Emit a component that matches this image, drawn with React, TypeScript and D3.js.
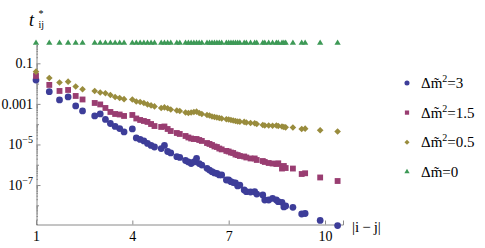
import React, { useEffect, useRef } from "react";
import * as d3 from "d3";

// |i-j| values that occur (3d lattice distances)
const distances = [
  1, 1.414, 1.732, 2, 2.236, 2.449, 2.828, 3, 3.162, 3.317, 3.464, 3.606, 3.742,
  4, 4.123, 4.243, 4.359, 4.472, 4.583, 4.69, 4.899, 5, 5.099, 5.196, 5.385, 5.477,
  5.657, 5.745, 5.831, 5.916, 6, 6.083, 6.164, 6.325, 6.403, 6.481, 6.557, 6.633, 6.708, 6.782, 6.928, 7, 7.071,
  7.141, 7.211, 7.28, 7.348, 7.483, 7.55, 7.681, 7.81, 7.874, 8.062, 8.124, 8.246, 8.367,
  8.485, 8.544, 8.66, 8.718, 8.775, 9, 9.274, 9.381, 9.849, 10.392,
];

const tM3 = [
  1.5e-2, 4.0e-3, 1.56e-3, 2.19e-3, 7.9e-4, 4.5e-4, 2.54e-4, 3.18e-4, 1.71e-4, 1.08e-4, 7.7e-5, 6.1e-5, 4.13e-5,
  5.8e-5, 2.09e-5, 1.76e-5, 1.49e-5, 1.12e-5, 8.9e-6, 7.5e-6, 6.3e-6, 8.9e-6, 4.5e-6, 3.8e-6, 2.5e-6, 2.28e-6,
  1.62e-6, 1.37e-6, 1.15e-6, 1.37e-6, 2.08e-6, 1.15e-6, 9.7e-7, 6.7e-7, 5.5e-7, 4.55e-7, 3.93e-7, 3.71e-7, 3.13e-7, 3.13e-7, 1.77e-7, 1.77e-7, 1.46e-7,
  1.33e-7, 1.26e-7, 9.0e-8, 1.0e-7, 5.7e-8, 4.7e-8, 4.54e-8, 4.7e-8, 3.61e-8, 3.23e-8, 1.83e-8, 1.83e-8, 2.22e-8,
  1.83e-8, 1.51e-8, 1.41e-8, 8.3e-9, 9.3e-9, 8.0e-9, 3.73e-9, 3.95e-9, 1.79e-9, 1.01e-9,
];

const tM15 = [
  2.38e-2, 8.6e-3, 4.34e-3, 4.86e-3, 2.46e-3, 1.65e-3, 1.11e-3, 9.4e-4, 6.3e-4, 4.0e-4, 3.18e-4, 3.0e-4, 2.54e-4,
  2.84e-4, 1.91e-4, 1.61e-4, 1.44e-4, 1.29e-4, 1.02e-4, 8.1e-5, 7.3e-5, 7.7e-5, 5.8e-5, 4.6e-5, 3.68e-5, 3.29e-5,
  2.62e-5, 2.21e-5, 1.97e-5, 1.86e-5, 1.86e-5, 1.66e-5, 1.49e-5, 1.18e-5, 1.06e-5, 9.4e-6, 8.0e-6, 7.5e-6, 6.3e-6, 5.7e-6, 4.8e-6, 4.5e-6, 4.0e-6,
  3.8e-6, 3.2e-6, 3.0e-6, 2.7e-6, 2.55e-6, 2.28e-6, 2.04e-6, 2.04e-6, 1.72e-6, 1.53e-6, 1.37e-6, 1.22e-6, 1.15e-6,
  1.09e-6, 1.18e-6, 6.5e-7, 8.7e-7, 6.9e-7, 6.5e-7, 3.5e-7, 3.8e-7, 2.36e-7, 1.58e-7,
];

const tM05 = [
  3.88e-2, 1.9e-2, 1.14e-2, 1.25e-2, 7.2e-3, 5.3e-3, 4.34e-3, 3.66e-3, 3.34e-3, 2.75e-3, 2.19e-3, 1.96e-3, 1.71e-3,
  1.65e-3, 1.32e-3, 1.24e-3, 1.11e-3, 9.4e-4, 8.4e-4, 7.5e-4, 6.3e-4, 6.7e-4, 6.1e-4, 5.3e-4, 4.7e-4, 4.48e-4,
  3.78e-4, 3.56e-4, 3.78e-4, 4.0e-4, 4.14e-4, 3.56e-4, 3.18e-4, 2.84e-4, 2.69e-4, 2.4e-4, 2.26e-4, 2.14e-4, 2.02e-4, 1.91e-4, 1.75e-4, 1.71e-4, 1.61e-4,
  1.52e-4, 1.44e-4, 1.36e-4, 1.33e-4, 1.29e-4, 1.21e-4, 1.15e-4, 1.11e-4, 1.02e-4, 9.1e-5, 8.6e-5, 8.6e-5, 8.4e-5,
  8.6e-5, 8.1e-5, 7.7e-5, 7.3e-5, 7.0e-5, 6.9e-5, 5.8e-5, 6.0e-5, 5.0e-5, 4.37e-5,
];

const tM0 = [
  1, 1, 1, 1, 1, 1, 1, 1, 1, 1, 1, 1, 1,
  1, 1, 1, 1, 1, 1, 1, 1, 1, 1, 1, 1, 1,
  1, 1, 1, 1, 1, 1, 1, 1, 1, 1, 1, 1, 1, 1, 1, 1, 1,
  1, 1, 1, 1, 1, 1, 1, 1, 1, 1, 1, 1, 1,
  1, 1, 1, 1, 1, 1, 1, 1, 1, 1,
];

const seriesNames = [
  ["Δm\u0303", "2", "=3"],
  ["Δm\u0303", "2", "=1.5"],
  ["Δm\u0303", "2", "=0.5"],
  ["Δm\u0303", "", "=0"],
];
const seriesValues = [tM3, tM15, tM05, tM0];
const colors = ["#3d3d99", "#993d71", "#998c3d", "#3d9956"];

const xTicks = [1, 4, 7, 10];
const yMajor = [1e-1, 1e-3, 1e-5, 1e-7];
const yMajorLabels = [["0.1", ""], ["0.001", ""], ["10", "−5"], ["10", "−7"]];

const serif = "Liberation Serif, Tinos, Times New Roman, DejaVu Serif, serif";

function App() {
  const ref = useRef<SVGSVGElement>(null);

  useEffect(() => {
    const svg = d3.select(ref.current);
    svg.selectAll("*").remove();
    const axisColor = "#8a8a8a";

    const x = d3.scaleLinear().domain([1, 10.56]).range([36, 343]);
    const y = d3.scaleLog().domain([1.2e-9, 0.8]).range([224, 45]);

    // minor y ticks
    const minor: number[] = [];
    for (let e = -9; e <= 0; e++) {
      for (let k = 1; k <= 9; k++) {
        const v = k * Math.pow(10, e);
        if (v >= 1.2e-9 && v <= 0.8 && !yMajor.some((m) => Math.abs(m - v) / v < 1e-6)) minor.push(v);
      }
    }
    const decades = minor.filter((v) => Math.abs(Math.log10(v) - Math.round(Math.log10(v))) < 1e-6);
    const subs = minor.filter((v) => !decades.includes(v));

    const yAxisG = svg.append("g").attr("transform", "translate(36.5,0)");
    yAxisG.call(d3.axisLeft(y).tickValues(subs).tickSize(-1.5).tickFormat(() => ""));
    const yDec = svg.append("g").attr("transform", "translate(36.5,0)");
    yDec.call(d3.axisLeft(y).tickValues(decades).tickSize(-2.5).tickFormat(() => ""));
    yDec.select(".domain").remove();
    const yMaj = svg.append("g").attr("transform", "translate(36.5,0)");
    yMaj.call(d3.axisLeft(y).tickValues(yMajor).tickSize(-4).tickPadding(3.5).tickFormat(() => ""));
    yMaj.select(".domain").remove();
    yMaj.selectAll<SVGTextElement, number>(".tick text").each(function (d, i) {
      const t = d3.select(this);
      t.text(null)
        .style("font-family", serif)
        .attr("font-size", 14)
        .attr("fill", "#000")
        .attr("dy", "0.32em");
      const lab = yMajorLabels[i];
      t.append("tspan").text(lab[0]);
      if (lab[1]) t.append("tspan").attr("font-size", 10).attr("dy", -6).text(lab[1]);
    });

    const xAxisG = svg.append("g").attr("transform", "translate(0,224.5)");
    xAxisG.call(d3.axisBottom(x).tickValues(xTicks).tickSize(-4).tickPadding(6).tickFormat(d3.format("d")));
    xAxisG.selectAll("text").style("font-family", serif).attr("font-size", 14).attr("fill", "#000").attr("dy", "0.78em");

    [yAxisG, yDec, yMaj, xAxisG].forEach((g) => {
      g.selectAll("path,line").attr("stroke", axisColor);
      g.attr("font-family", null);
    });

    // data
    const symbols = [d3.symbolCircle, d3.symbolSquare, d3.symbolSquare, d3.symbolTriangle];
    const sizes = [36, 34, 22, 17];
    const rot = [0, 0, 45, 0];
    seriesValues.forEach((vals, s) => {
      const g = svg.append("g").attr("fill", colors[s]);
      g.selectAll("path")
        .data(distances.map((d, i) => [d, vals[i]]))
        .join("path")
        .attr("d", d3.symbol().type(symbols[s]).size(sizes[s])())
        .attr("transform", (d) => `translate(${x(d[0])},${y(d[1])}) rotate(${rot[s]})`);
    });

    // legend
    const lsizes = [20, 18, 13, 12];
    seriesNames.forEach((name, s) => {
      const cy = 83 + s * 29.6;
      svg
        .append("path")
        .attr("d", d3.symbol().type(symbols[s]).size(lsizes[s])())
        .attr("fill", colors[s])
        .attr("transform", `translate(407,${cy}) rotate(${rot[s]})`);
      const t = svg
        .append("text")
        .attr("x", 421)
        .attr("y", cy + 5)
        .style("font-family", serif)
        .attr("font-size", 15);
      t.append("tspan").text(name[0]);
      if (name[1]) {
        t.append("tspan").attr("font-size", 10).attr("dy", -6).text(name[1]);
        t.append("tspan").attr("dy", 6).text(name[2]);
      } else {
        t.append("tspan").text(name[2]);
      }
    });

    // axis labels
    svg.append("text").attr("x", 352).attr("y", 232).style("font-family", serif).attr("font-size", 15)
      .text("|i\u2009−\u2009j|");
    svg.append("text").attr("x", 29).attr("y", 25.5).style("font-family", serif).attr("font-size", 18)
      .attr("font-style", "italic").text("t");
    svg.append("text").attr("x", 38.5).attr("y", 16.5).style("font-family", serif).attr("font-size", 10).text("*");
    svg.append("text").attr("x", 38.5).attr("y", 28).style("font-family", serif).attr("font-size", 10).text("ij");
  }, []);

  return (
    <div style={{ position: "absolute", left: 0, top: 0 }}>
      <svg ref={ref} width={485} height={248}></svg>
    </div>
  );
}

export default App;
